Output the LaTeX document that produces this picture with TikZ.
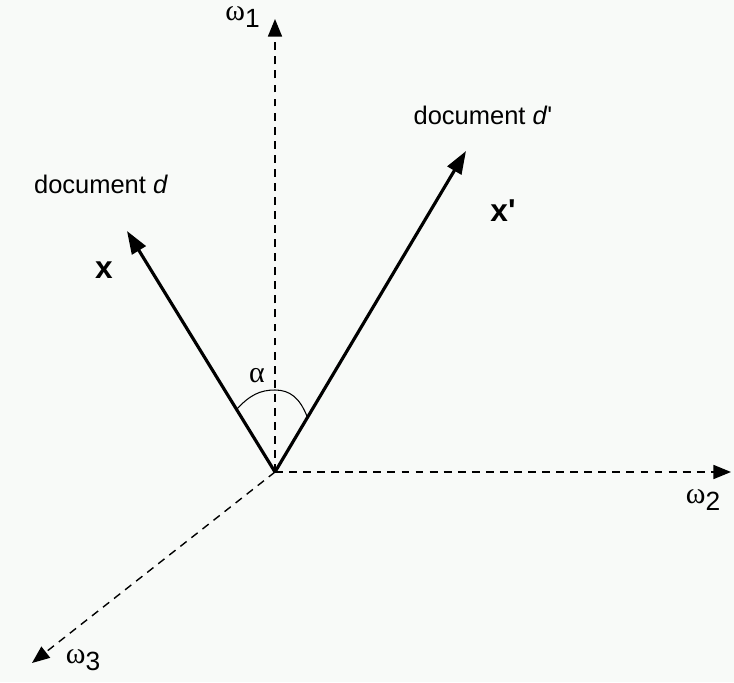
\documentclass[tikz,border=0pt]{standalone}
\usepackage{fontspec}
\setmainfont{Liberation Sans}
\newfontfamily\symfont{Liberation Serif}
\usetikzlibrary{arrows.meta, positioning, calc}
\definecolor{PaperWhite}{HTML}{F8FAF8}
\newcommand{\axlabel}[1]{{\symfont\fontsize{17}{17}\selectfont ω}\raisebox{-0.45ex}{#1}}

\begin{document}
\begin{tikzpicture}[
  vec/.style={-{Triangle[length=13pt, width=9pt]}, line width=1.8pt},
  axis/.style={-{Triangle[length=10pt, width=8pt]}, dash pattern=on 4.5pt off 3.5pt, line width=0.8pt},
  doc/.style={font=\fontsize{14.5}{16}\selectfont, inner sep=1pt},
  vname/.style={font=\fontsize{18}{20}\selectfont\bfseries, inner sep=1pt},
  greek/.style={font=\fontsize{15}{17}\selectfont, inner sep=1pt}
]
\fill[PaperWhite] (0,0) rectangle (14.68,13.64);
\useasboundingbox (0,0) rectangle (14.68,13.64);

\coordinate (O) at (5.5,4.2);
\coordinate (w1) at (5.5,13.26);
\coordinate (w2) at (14.62,4.2);
\coordinate (w3) at (0.64,0.38);
\coordinate (x) at (2.54,9.02);
\coordinate (xp) at (9.32,10.62);

% axes
\draw[axis] (O) -- (w1);
\draw[axis] (O) -- (w2);
\draw[axis] (O) -- (w3);
\node[greek] (l1) at (4.85,13.3) {\axlabel{1}};
\node[greek] (l2) at (14.06,3.64) {\axlabel{2}};
\node[greek] (l3) at (1.66,0.44) {\axlabel{3}};

% document vectors
\draw[vec] (O) -- (x);
\draw[vec] (O) -- (xp);
\node[vname] (xl) at (2.08,8.24) {x};
\node[vname] (xpl) at (10.06,9.42) {x\textquotesingle};
\node[doc] (d) at (2.02,9.96) {document \textit{d}};
\node[doc] (dp) at (9.66,11.34) {document \textit{d}\textquotesingle};

% angle
\coordinate (a1) at ($(O)!0.26!(x)$);
\coordinate (a2) at ($(O)!0.17!(xp)$);
\coordinate (top) at (5.5,5.84);
\draw[line width=0.6pt] (a1) .. controls (5.0,5.74) and (5.2,5.84) .. (top)
  .. controls (5.8,5.84) and (6.0,5.68) .. (a2);
\node[greek] (al) at (5.14,6.12) {\symfont\fontsize{17}{17}\selectfont α};
\end{tikzpicture}
\end{document}
